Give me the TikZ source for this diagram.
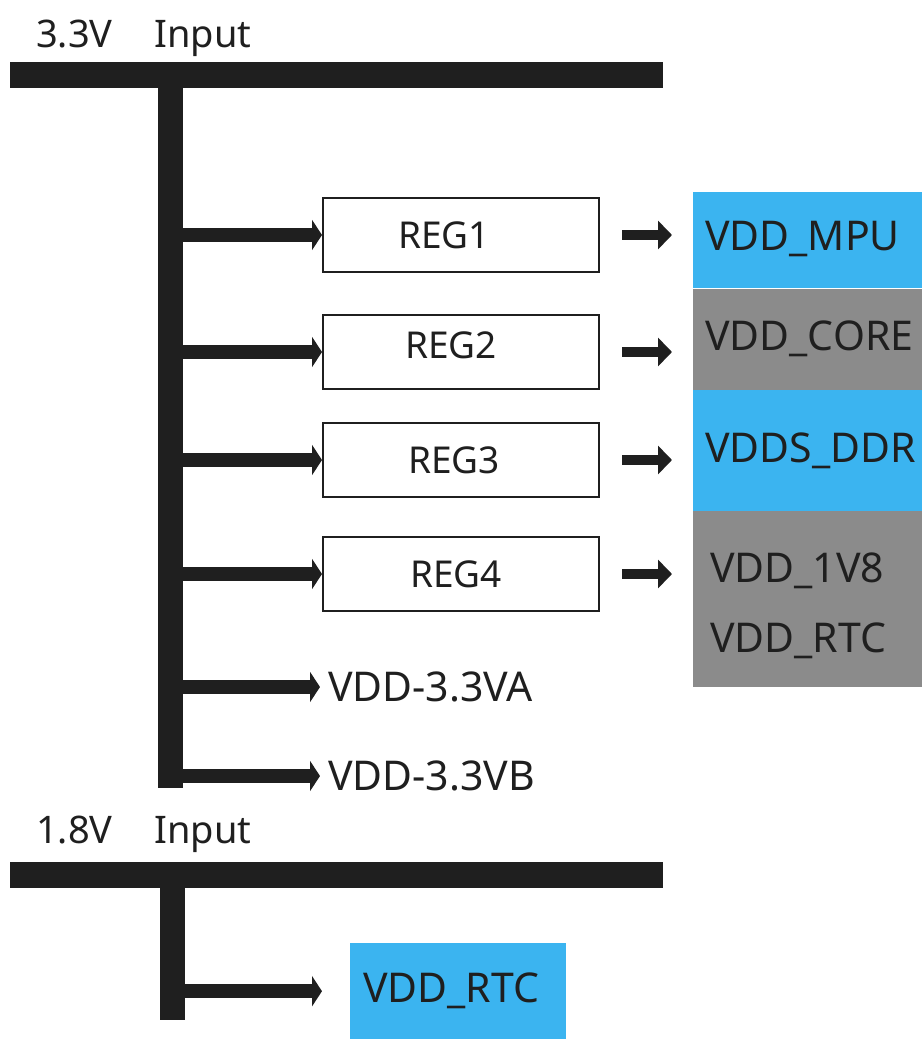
\documentclass[tikz,border=0pt]{standalone}
\usepackage{fontspec}
\setmainfont{Noto Sans}
\usepackage{xcolor}
\usetikzlibrary{arrows.meta, positioning}

\definecolor{railblack}{RGB}{31,31,31}
\definecolor{outblue}{RGB}{59,180,240}
\definecolor{outgray}{RGB}{139,139,139}

\begin{document}
\begin{tikzpicture}[
    x=1pt, y=-1pt,
    font=\fontsize{41}{48}\selectfont,
    rail/.style={fill=railblack, inner sep=0pt, minimum width=653pt, minimum height=26pt},
    trunk/.style={fill=railblack, inner sep=0pt, minimum width=25pt},
    regbox/.style={draw=railblack, line width=2pt, minimum width=276pt, minimum height=74pt,
                   inner sep=0pt, text=railblack, font=\fontsize{37}{44}\selectfont},
    outbox/.style={fill=#1, minimum width=229pt, text width=205pt, inner xsep=12pt,
                   inner ysep=0pt, align=left, text=railblack},
    outbox/.default=outblue,
    branch/.style={-{Triangle[length=10pt, width=30pt]}, line width=14pt, draw=railblack},
    feed/.style={-{Triangle[length=14pt, width=28pt]}, line width=10pt, draw=railblack},
    railtext/.style={anchor=base west, inner sep=0pt, text=railblack,
                     font=\fontsize{38}{46}\selectfont}
]
\useasboundingbox (0,0) rectangle (922,1039);

% 3.3V rail
\node[railtext] (in33) at (36,47) {3.3V\hspace{1.1em}Input};
\node[rail, anchor=north west] (bus33) at (10,62) {};
\node[trunk, minimum height=726pt, anchor=north] (trunk33) at (170.5,62) {};

% Regulators
\node[regbox, anchor=north west] (reg1) at (322,197) {REG1\hspace*{34pt}};
\node[regbox, below=41pt of reg1] (reg2) {\raisebox{13pt}{REG2}\hspace*{20pt}};
\node[regbox, below=32pt of reg2] (reg3) {REG3\hspace*{14pt}};
\node[regbox, below=38pt of reg3] (reg4) {REG4\hspace*{10pt}};

% Outputs
\node[outbox=outblue, minimum height=96pt, anchor=north west] (mpu) at (693,192) {\raisebox{8pt}{VDD\_MPU}};
\node[outbox=outgray, minimum height=101pt, below=0pt of mpu] (core) {VDD\_CORE};
\node[outbox=outblue, minimum height=121pt, below=0pt of core] (ddr) {VDDS\_DDR};
\node[outbox=outgray, minimum height=176pt, below=0pt of ddr, inner xsep=17pt,
      text width=195pt] (rtc33) {\\[-6pt]VDD\_1V8\\[22pt]VDD\_RTC};

% Direct 3.3V taps
\node[anchor=west, inner xsep=8pt, inner ysep=0pt, text=railblack] (va) at (320,687) {VDD-3.3VA};
\node[anchor=west, inner xsep=8pt, inner ysep=0pt, text=railblack] (vb) at (320,776) {VDD-3.3VB};

% Arrows
\draw[branch] (trunk33.east |- reg1.west) -- (reg1.west);
\draw[branch] (trunk33.east |- reg2.west) -- (reg2.west);
\draw[branch] (trunk33.east |- reg3.west) -- (reg3.west);
\draw[branch] (trunk33.east |- reg4.west) -- (reg4.west);
\draw[branch] (trunk33.east |- va.west) -- (va.west);
\draw[branch] (trunk33.east |- vb.west) -- (vb.west);

\draw[feed] ([xshift=22pt]reg1.east) -- ([xshift=-21pt]reg1.east -| mpu.west);
\draw[feed] ([xshift=22pt]reg2.east) -- ([xshift=-21pt]reg2.east -| core.west);
\draw[feed] ([xshift=22pt]reg3.east) -- ([xshift=-21pt]reg3.east -| ddr.west);
\draw[feed] ([xshift=22pt]reg4.east) -- ([xshift=-21pt]reg4.east -| rtc33.west);

% 1.8V rail
\node[railtext] (in18) at (36,843) {1.8V\hspace{1.1em}Input};
\node[rail, anchor=north west] (bus18) at (10,862) {};
\node[trunk, minimum height=158pt, anchor=north] (trunk18) at (172.5,862) {};
\node[outbox=outblue, minimum width=216pt, text width=190pt, inner xsep=13pt,
      minimum height=96pt, anchor=north west] (rtc18) at (350,943) {VDD\_RTC};

\draw[branch] (trunk18.east |- rtc18.west) -- ([xshift=-28pt]rtc18.west);

\end{tikzpicture}
\end{document}
